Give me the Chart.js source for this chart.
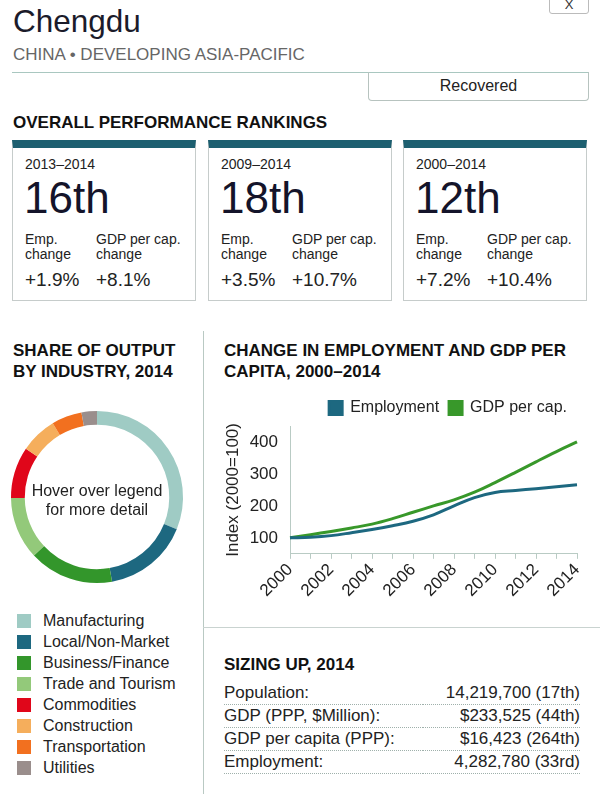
<!DOCTYPE html>
<html>
<head>
<meta charset="utf-8">
<script src="https://cdn.jsdelivr.net/npm/chart.js@4"></script>
<style>
  body { margin:0; width:600px; height:794px; background:#fff; font-family:"Liberation Sans", Arial, sans-serif; color:#222; position:relative; overflow:hidden; }
  .abs { position:absolute; }
  .closebtn { left:549px; top:-6px; width:38px; height:18px; border:1px solid #bbb; border-radius:3px; font-size:13px; text-align:center; line-height:20px; color:#333; }
  h1 { position:absolute; left:13px; top:3px; margin:0; font-size:31.5px; font-weight:normal; color:#1b1b2a; }
  .sub { left:13px; top:45px; font-size:17px; color:#666; }
  .rule { left:12px; top:72px; width:576px; border-top:1px solid #a9c7c0; }
  .recov { left:368px; top:72px; width:219px; height:28px; border:1px solid #b7c3bf; border-top:none; border-radius:0 0 4px 4px; text-align:center; font-size:16px; line-height:28px; }
  .sect { font-weight:bold; font-size:17px; color:#111; line-height:21px; }
  .card { top:140px; width:184px; height:161px; border:1px solid #c6cccb; border-top:8px solid #1d5f70; box-sizing:border-box; }
  .card .per { position:absolute; left:12px; top:8px; font-size:14px; }
  .card .rank { position:absolute; left:11px; top:25px; font-size:44px; color:#14142a; }
  .card .lab { position:absolute; top:84px; font-size:14px; line-height:15px; }
  .card .val { position:absolute; top:121px; font-size:19px; }
  .vdiv { left:203px; top:331px; height:470px; border-left:1px solid #b9c9c3; }
  .hdiv { left:203px; top:627px; width:397px; border-top:1px solid #c9d3d0; }
  table { position:absolute; left:224px; top:682px; width:356px; border-collapse:collapse; font-size:17px; }
  td { padding:0; height:22px; border-bottom:1px dotted #9fb0ab; }
  td.r { text-align:right; }
  .leg { left:17px; top:610px; font-size:16px; }
  .leg div { height:21px; line-height:21px; white-space:nowrap; }
  .leg span { display:inline-block; width:14px; height:14px; vertical-align:-2px; margin-right:12px; }
</style>
</head>
<body>
<div class="abs closebtn">X</div>
<h1>Chengdu</h1>
<div class="abs sub">CHINA • DEVELOPING ASIA-PACIFIC</div>
<div class="abs rule"></div>
<div class="abs recov">Recovered</div>
<div class="abs sect" style="left:13px;top:112px;">OVERALL PERFORMANCE RANKINGS</div>
<div id="cards"></div>
<div class="abs vdiv"></div>
<div class="abs hdiv"></div>
<div class="abs sect" style="left:13px;top:340px;">SHARE OF OUTPUT<br>BY INDUSTRY, 2014</div>
<div class="abs sect" style="left:224px;top:340px;">CHANGE IN EMPLOYMENT AND GDP PER<br>CAPITA, 2000–2014</div>
<div class="abs sect" style="left:224px;top:654px;">SIZING UP, 2014</div>
<table id="sizing"></table>
<div class="abs leg" id="leg"></div>
<canvas id="donut" class="abs" style="left:0;top:400px;width:200px;height:196px;"></canvas>
<canvas id="line" class="abs" style="left:205px;top:390px;width:392px;height:212px;"></canvas>
<script>
// rankings cards
var periods = ['2013–2014', '2009–2014', '2000–2014'];
var ranks = ['16th', '18th', '12th'];
var empChange = ['+1.9%', '+3.5%', '+7.2%'];
var gdpChange = ['+8.1%', '+10.7%', '+10.4%'];
var cardLeft = [12, 208, 403];

// donut
var industries = ['Manufacturing', 'Local/Non-Market', 'Business/Finance', 'Trade and Tourism', 'Commodities', 'Construction', 'Transportation', 'Utilities'];
var shares = [31.1, 16.1, 15.9, 11.7, 9.7, 6.9, 5.7, 2.9];
var indColors = ['#9fcbc4', '#1d6880', '#33962b', '#93c97a', '#e0061a', '#f5ae5c', '#f2701f', '#9a8e8c'];

// line chart
var years = ['2000','2001','2002','2003','2004','2005','2006','2007','2008','2009','2010','2011','2012','2013','2014'];
var employment = [100, 102, 107, 116, 126, 138, 152, 172, 200, 226, 242, 248, 254, 260, 266];
var gdpPerCap = [100, 110, 120, 131, 143, 160, 180, 200, 219, 243, 273, 305, 338, 370, 400];
var yTicks = [100, 200, 300, 400];

// sizing up
var sizeLabels = ['Population:', 'GDP (PPP, $Million):', 'GDP per capita (PPP):', 'Employment:'];
var sizeValues = ['14,219,700 (17th)', '$233,525 (44th)', '$16,423 (264th)', '4,282,780 (33rd)'];

var html = '';
for (var i = 0; i < 3; i++) {
  html += '<div class="abs card" style="left:' + cardLeft[i] + 'px">' +
    '<div class="per">' + periods[i] + '</div>' +
    '<div class="rank">' + ranks[i] + '</div>' +
    '<div class="lab" style="left:12px">Emp.<br>change</div>' +
    '<div class="lab" style="left:83px">GDP per cap.<br>change</div>' +
    '<div class="val" style="left:12px">' + empChange[i] + '</div>' +
    '<div class="val" style="left:83px">' + gdpChange[i] + '</div></div>';
}
document.getElementById('cards').innerHTML = html;

var t = '';
for (var i = 0; i < sizeLabels.length; i++) {
  t += '<tr><td>' + sizeLabels[i] + '</td><td class="r">' + sizeValues[i] + '</td></tr>';
}
document.getElementById('sizing').innerHTML = t;

var l = '';
for (var i = 0; i < industries.length; i++) {
  l += '<div><span style="background:' + indColors[i] + '"></span>' + industries[i] + '</div>';
}
document.getElementById('leg').innerHTML = l;

var centerText = {
  id: 'centerText',
  afterDraw: function(chart) {
    var c = chart.ctx, a = chart.chartArea;
    var cx = (a.left + a.right) / 2, cy = (a.top + a.bottom) / 2;
    c.save();
    c.font = '16px "Liberation Sans", Arial';
    c.fillStyle = '#222';
    c.textAlign = 'center';
    c.textBaseline = 'middle';
    c.fillText('Hover over legend', cx, cy - 5);
    c.fillText('for more detail', cx, cy + 14);
    c.restore();
  }
};

new Chart(document.getElementById('donut'), {
  type: 'doughnut',
  data: {
    labels: industries,
    datasets: [{ data: shares, backgroundColor: indColors, borderWidth: 0 }]
  },
  options: {
    responsive: false,
    animation: false,
    cutout: '84%',
    layout: { padding: { left: 11, right: 17, top: 11, bottom: 13 } },
    plugins: { legend: { display: false }, tooltip: { enabled: false } }
  },
  plugins: [centerText]
});

new Chart(document.getElementById('line'), {
  type: 'line',
  data: {
    labels: years,
    datasets: [
      { label: 'Employment', data: employment, borderColor: '#1d6880', backgroundColor: '#1d6880', borderWidth: 3, pointRadius: 0, tension: 0.4 },
      { label: 'GDP per cap.', data: gdpPerCap, borderColor: '#38982a', backgroundColor: '#38982a', borderWidth: 3, pointRadius: 0, tension: 0.4 }
    ]
  },
  options: {
    responsive: false,
    animation: false,
    layout: { padding: { left: 18, right: 20 } },
    plugins: {
      tooltip: { enabled: false },
      legend: {
        align: 'end',
        labels: { boxWidth: 13, boxHeight: 13, padding: 10, color: '#222', font: { size: 16, family: '"Liberation Sans", Arial' } }
      }
    },
    scales: {
      x: {
        offset: false,
        grid: { display: true, drawOnChartArea: false, drawTicks: true, tickLength: 5, color: '#b9cbc4' },
        border: { color: '#b9cbc4' },
        ticks: {
          autoSkip: false, maxRotation: 45, minRotation: 45, color: '#222', padding: 1,
          font: { size: 17, family: '"Liberation Sans", Arial' },
          callback: function(v, i) { return i % 2 === 0 ? years[i] : ''; }
        }
      },
      y: {
        min: 50, max: 450,
        afterBuildTicks: function(axis) { axis.ticks = yTicks.map(function(v) { return { value: v }; }); },
        afterFit: function(axis) { axis.width = 67; },
        grid: { display: false },
        border: { color: '#b9cbc4' },
        title: { display: true, text: 'Index (2000=100)', color: '#222', padding: { top: 0, bottom: 4 }, font: { size: 17, family: '"Liberation Sans", Arial' } },
        ticks: { color: '#222', padding: 4, font: { size: 17, family: '"Liberation Sans", Arial' } }
      }
    }
  }
});
</script>
</body>
</html>
